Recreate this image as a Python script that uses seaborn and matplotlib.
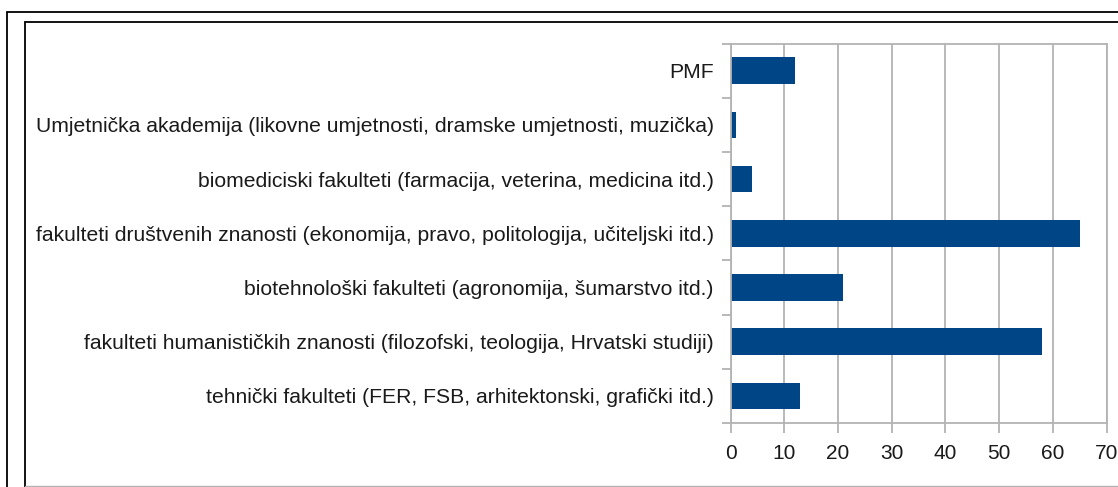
import matplotlib
matplotlib.use("Agg")
import matplotlib.pyplot as plt
import seaborn as sns
import pandas as pd
from matplotlib.patches import Rectangle
from matplotlib.lines import Line2D

categories = [
    "PMF",
    "Umjetnička akademija (likovne umjetnosti, dramske umjetnosti, muzička)",
    "biomediciski fakulteti (farmacija, veterina, medicina itd.)",
    "fakulteti društvenih znanosti (ekonomija, pravo, politologija, učiteljski itd.)",
    "biotehnološki fakulteti (agronomija, šumarstvo itd.)",
    "fakulteti humanističkih znanosti (filozofski, teologija, Hrvatski studiji)",
    "tehnički fakulteti (FER, FSB, arhitektonski, grafički itd.)",
]
values = [12, 1, 4, 65, 21, 58, 13]
x_ticks = [0, 10, 20, 30, 40, 50, 60, 70]

df = pd.DataFrame({"cat": categories, "val": values})

sns.set_theme(style="white")
plt.rcParams['font.family'] = ['Liberation Sans', 'DejaVu Sans']

W, H = 1118, 487
fig = plt.figure(figsize=(W / 100, H / 100), dpi=100)
fig.patch.set_facecolor("white")

left, right, top, bottom = 730.5, 1106.7, 43.5, 423.0
ax = fig.add_axes([left / W, 1 - bottom / H, (right - left) / W, (bottom - top) / H])

sns.barplot(data=df, y="cat", x="val", order=categories, color="#004586",
            saturation=1, width=0.49, ax=ax, orient="h", edgecolor="none")

ax.set_xlim(0, 70)
ax.set_ylim(6.5, -0.5)
ax.set_xticks(x_ticks)
ax.set_xticklabels([str(t) for t in x_ticks])
ax.set_xlabel("")
ax.set_ylabel("")

gray = "#b3b3b3"
ax.xaxis.grid(True, color=gray, linewidth=1.3)
ax.yaxis.grid(False)
ax.set_axisbelow(True)
for s in ax.spines.values():
    s.set_color(gray)
    s.set_linewidth(1.3)
    s.set_visible(True)

ax.set_yticks([i + 0.5 for i in range(-1, 7)], minor=True)
ax.tick_params(axis="y", which="minor", length=6.5, width=1.3, color=gray, left=True)
ax.tick_params(axis="y", which="major", length=0, pad=12, labelsize=15.2, labelcolor="#1a1a1a")
ax.tick_params(axis="x", which="major", length=7.2, width=1.3, color=gray, bottom=True,
               pad=8, labelsize=15, labelcolor="#1a1a1a")

# outer frames
fig.add_artist(Rectangle((6.5 / W, -1), 2, 1 - 12.3 / H + 1, transform=fig.transFigure,
                         fill=False, edgecolor="black", linewidth=1.3))
fig.add_artist(Line2D([24.5 / W, 24.5 / W], [0, 1 - 22.3 / H], transform=fig.transFigure,
                      color="black", linewidth=1.3))
fig.add_artist(Line2D([24.5 / W, 1.0], [1 - 22.3 / H, 1 - 22.3 / H], transform=fig.transFigure,
                      color="black", linewidth=1.3))
fig.add_artist(Line2D([24.5 / W, 1.0], [1 - 486 / H, 1 - 486 / H], transform=fig.transFigure,
                      color=gray, linewidth=1.0))

fig.savefig("out.png", dpi=100)
